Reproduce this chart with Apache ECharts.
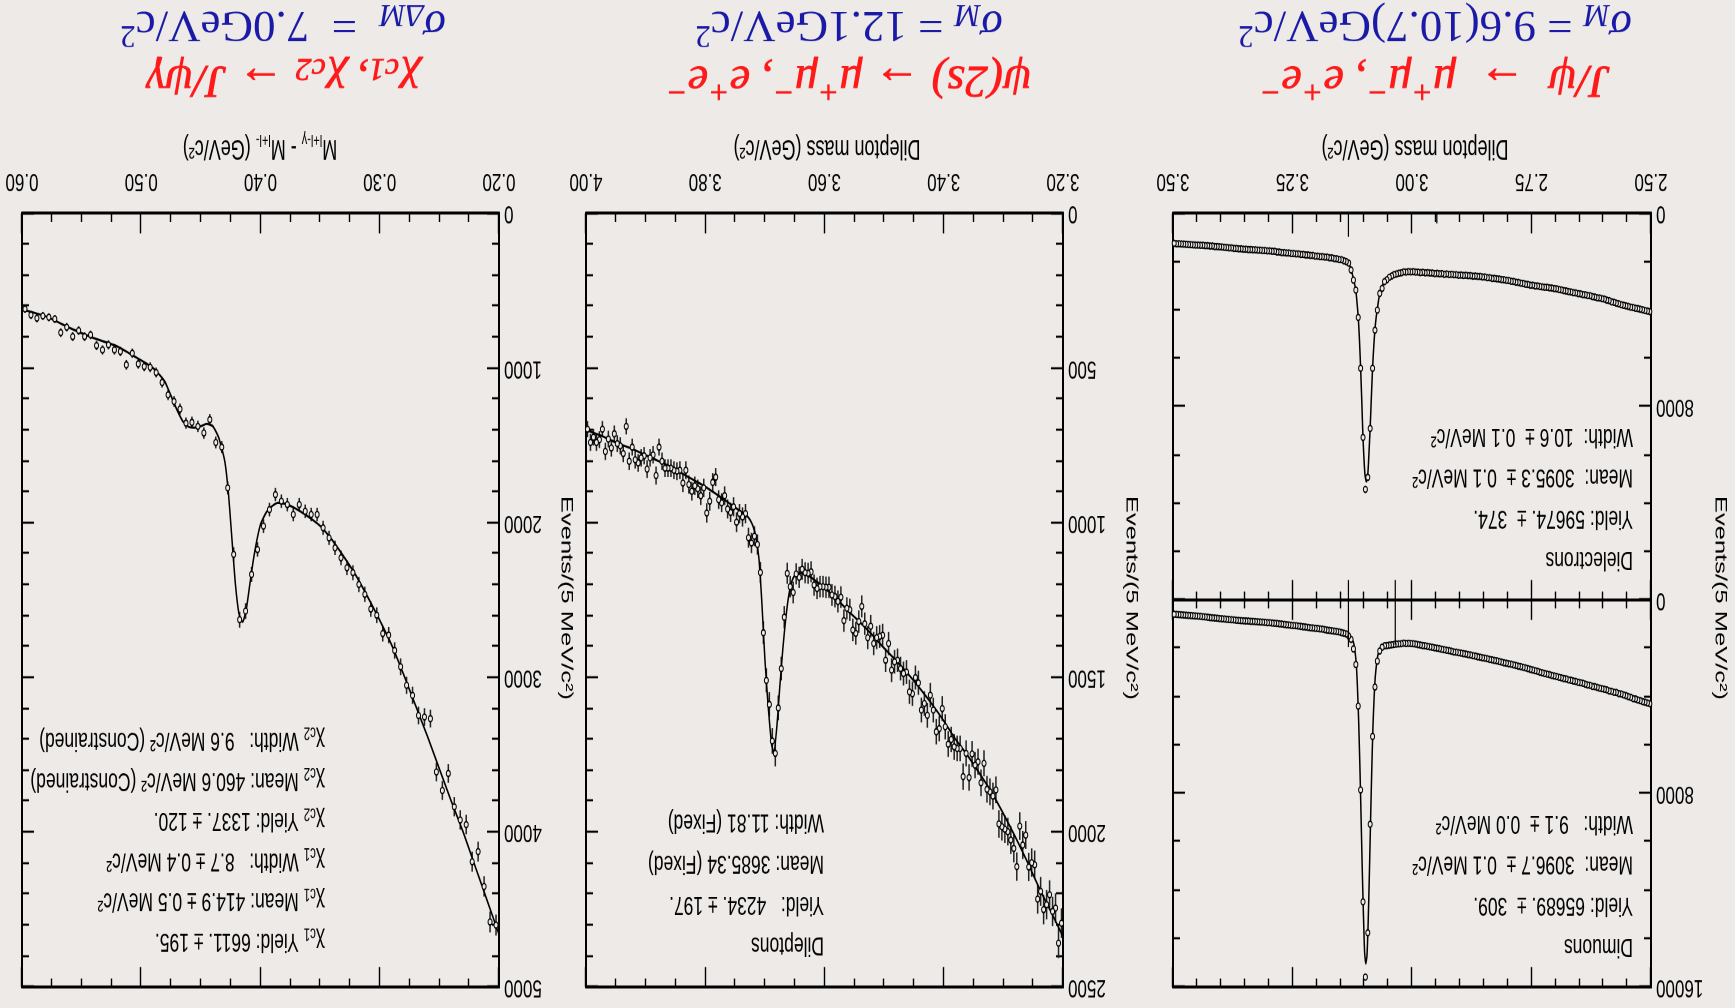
<!DOCTYPE html>
<html><head><meta charset="utf-8">
<script src="https://cdn.jsdelivr.net/npm/echarts@6/dist/echarts.min.js"></script>
<style>
html,body{margin:0;padding:0;background:#edeae8;overflow:hidden;width:1735px;height:1008px;}
#chart{position:absolute;left:0;top:0;width:1735px;height:672px;transform-origin:0 0;
 transform:translate(1735px,1008px) rotate(180deg) scaleY(1.5);}
</style></head><body><div id="chart"></div>
<script>
// ---------- data (5 MeV bins) ----------
const binWidth = 0.005;
const jpsiRange = [2.5, 3.5, 0.25];
const psiRange = [3.2, 4.0, 0.2];
const chiRange = [0.2, 0.6, 0.1];
const jpsiYRange = [0, 16000, 8000];
const psiYRange = [0, 2500, 500];
const chiYRange = [0, 5000, 1000];

const dimuonCounts = [4290,4255,4225,4200,4160,4135,4090,4075,4020,3995,
 3950,3925,3885,3870,3825,3815,3775,3760,3715,3690,
 3670,3645,3615,3585,3570,3525,3510,3480,3445,3420,
 3400,3365,3350,3315,3300,3260,3245,3215,3195,3165,
 3140,3115,3085,3060,3035,3005,2985,2945,2925,2895,
 2865,2840,2805,2785,2755,2735,2705,2685,2655,2635,
 2610,2595,2565,2545,2515,2495,2475,2455,2425,2405,
 2390,2365,2345,2315,2305,2275,2255,2235,2215,2195,
 2180,2155,2145,2115,2095,2075,2055,2035,2005,1995,
 1975,1955,1935,1915,1895,1880,1860,1845,1825,1810,
 1800,1790,1795,1785,1805,1815,1825,1835,1855,1865,
 1880,1895,1950,2110,2530,3600,5640,9270,13760,15590,
 12480,7850,4390,2670,2020,1630,1490,1405,1375,1345,
 1320,1305,1290,1275,1255,1245,1225,1205,1195,1175,
 1170,1155,1145,1130,1115,1105,1090,1080,1065,1055,
 1045,1030,1020,1010,995,985,970,960,950,940,
 935,925,915,905,900,890,885,880,870,865,
 860,855,845,835,825,815,805,795,785,775,
 770,755,745,735,725,710,700,690,675,665,
 660,650,645,635,630,620,612,605,600,592];
const dimuonFitX = [2.50,2.55,2.60,2.65,2.70,2.75,2.80,2.85,2.90,2.95,3.00,3.02,3.04,3.05,3.055,3.06,
 3.0667,3.0717,3.0767,3.0792,3.0817,3.0842,3.0867,3.0892,3.0917,3.0942,3.0967,3.0992,3.1017,3.1042,
 3.1067,3.1092,3.1117,3.1142,3.1167,3.1217,3.1267,3.1317,3.14,3.15,3.20,3.25,3.30,3.35,3.40,3.45,3.50];
const dimuonFitY = [4300,3950,3670,3400,3150,2870,2620,2390,2180,1975,1805,1800,1830,1860,1880,1910,
 2000,2310,3140,4010,5240,7040,9130,11340,13320,14700,15030,14550,12950,11040,
 8830,6740,4940,3590,2610,1810,1560,1480,1410,1335,1175,1050,940,870,775,665,595];

const dielectronCounts = [4060,4035,4015,3985,3965,3935,3925,3895,3875,3845,
 3825,3795,3775,3735,3715,3675,3655,3605,3585,3545,
 3525,3495,3485,3455,3445,3405,3395,3365,3355,3325,
 3315,3285,3275,3245,3235,3205,3195,3165,3145,3115,
 3105,3085,3075,3055,3055,3035,3025,2995,2995,2965,
 2965,2935,2925,2895,2885,2855,2845,2815,2805,2775,
 2765,2745,2735,2715,2705,2685,2685,2655,2655,2625,
 2625,2605,2605,2590,2595,2575,2575,2560,2565,2545,
 2555,2535,2535,2520,2525,2505,2515,2490,2495,2475,
 2485,2465,2465,2450,2455,2435,2445,2425,2425,2405,
 2415,2405,2425,2420,2455,2470,2505,2530,2585,2640,
 2740,2820,3100,3310,4000,4830,6410,8900,10920,11420,
 9270,6410,4300,3170,2760,2340,2050,1990,1955,1915,
 1905,1875,1865,1835,1835,1805,1805,1785,1785,1765,
 1765,1735,1735,1715,1715,1695,1695,1675,1675,1655,
 1655,1635,1635,1615,1615,1595,1595,1565,1565,1545,
 1545,1530,1535,1515,1515,1500,1500,1490,1490,1480,
 1480,1465,1465,1445,1445,1425,1420,1405,1400,1385,
 1380,1365,1365,1345,1345,1330,1330,1315,1315,1305,
 1305,1295,1290,1280,1275,1265,1260,1250,1250,1240];
const dielectronFitX = [2.50,2.55,2.60,2.65,2.70,2.75,2.80,2.85,2.90,2.95,3.00,3.02,3.04,3.05,3.055,3.06,
 3.0625,3.065,3.0675,3.07,3.0725,3.075,3.0775,3.08,3.0825,3.085,3.0875,3.09,3.0925,3.0955,3.0985,
 3.1025,3.105,3.1075,3.11,3.1125,3.115,3.1175,3.1225,3.1275,3.1325,3.14,3.15,3.20,3.25,3.30,3.35,3.40,3.45,3.50];
const dielectronFitY = [4070,3830,3520,3310,3100,2960,2760,2620,2550,2480,2410,2430,2530,2650,2760,2900,
 3050,3150,3300,3600,3950,4300,4800,5500,6400,7600,8850,9900,10800,11100,10800,
 9300,7800,6400,5200,4300,3700,3200,2700,2330,2060,1970,1900,1770,1650,1545,1470,1380,1310,1240];

const psiCounts = [2294,2358,2245,2256,2202,2234,2250,2191,2216,2105,
 2098,2112,2009,2041,1980,2111,2052,2025,1998,1990,
 1982,1973,1863,1883,1869,1861,1777,1840,1772,1783,
 1747,1823,1745,1820,1729,1729,1724,1700,1715,1659,
 1600,1665,1675,1605,1557,1622,1584,1605,1517,1500,
 1552,1546,1482,1487,1471,1444,1449,1476,1390,1444,
 1363,1367,1371,1390,1334,1371,1326,1270,1319,1357,
 1346,1281,1276,1316,1240,1254,1238,1233,1208,1208,
 1206,1206,1212,1201,1158,1163,1161,1150,1176,1165,
 1225,1206,1163,1305,1471,1598,1745,1705,1587,1509,
 1355,1160,1070,1043,1065,1048,970,981,970,998,
 948,966,955,912,935,925,852,869,930,968,
 887,912,890,880,898,876,830,871,830,833,
 830,823,823,823,801,755,847,780,790,826,
 783,790,806,796,755,801,688,776,751,744,
 712,758,729,769,697,731,740,723,740,697];
const psiFitX = [3.20,3.22,3.24,3.26,3.28,3.30,3.32,3.34,3.36,3.38,3.40,3.42,3.44,3.46,3.48,3.50,3.52,3.54,3.56,3.58,3.60,
 3.62,3.63,3.64,3.645,3.65,3.655,3.66,3.665,3.67,3.675,3.68,3.685,3.6885,3.692,3.695,3.70,3.705,3.71,3.715,3.72,
 3.725,3.73,3.75,3.77,3.80,3.83,3.86,3.89,3.92,3.95,3.975,4.00];
const psiFitY = [2337,2258,2180,2095,2015,1940,1870,1810,1752,1700,1640,1585,1535,1488,1445,1405,1362,1322,1285,1245,1210,
 1180,1168,1162,1163,1170,1190,1235,1310,1410,1530,1660,1740,1720,1650,1580,1440,1260,1115,1045,1010,
 990,978,950,922,883,850,817,790,763,740,718,700];

const chiCounts = [4600,4580,4350,4125,4190,3950,3920,3835,3620,3730,
 3610,3265,3255,3245,3115,3050,2930,2825,2725,2715,
 2597,2557,2462,2398,2322,2290,2226,2161,2097,2032,
 1946,1946,1925,1882,1946,1882,1860,1817,1914,2021,
 2172,2333,2570,2626,2204,1774,1510,1480,1333,1419,
 1376,1350,1355,1264,1215,1172,1092,1028,994,989,
 972,903,978,892,882,849,882,854,785,796,
 757,796,735,770,682,671,662,677,656,617];
const chiFitX = [0.200,0.210,0.220,0.230,0.240,0.250,0.260,0.270,0.280,0.290,0.300,0.310,0.320,0.330,0.340,0.350,0.360,0.370,
 0.375,0.380,0.385,0.390,0.395,0.400,0.403,0.406,0.409,0.412,0.415,0.418,0.421,0.424,0.427,0.430,
 0.435,0.440,0.445,0.450,0.455,0.460,0.465,0.470,0.475,0.480,0.485,0.490,0.500,0.520,0.540,0.560,0.580,0.600];
const chiFitY = [4660,4440,4220,4000,3800,3590,3380,3180,2980,2790,2630,2480,2340,2220,2110,2020,1960,1910,
 1890,1875,1870,1890,1930,2010,2110,2240,2400,2560,2640,2590,2400,2100,1800,1600,
 1450,1375,1360,1375,1385,1380,1345,1270,1180,1090,1040,1000,950,860,805,740,665,620];

// signal-window marker lines [x, yFrom, yTo]
const dimuonWindowLines = [[3.133, 0, 1950], [3.035, 0, 1850]];
const dielectronWindowLines = [[3.133, 0, 965], [2.948, 0, 410], [3.133, 15170, 16000], [3.035, 15170, 16000]];

// texts
const dimuonInfo = ['Dimuons', 'Yield: 65689. \u00b1  309.', 'Mean:  3096.7 \u00b1  0.1 MeV/c\u00b2', 'Width:   9.1 \u00b1  0.0 MeV/c\u00b2'];
const dielectronInfo = ['Dielectrons', 'Yield: 59674. \u00b1  374.', 'Mean:  3095.3 \u00b1  0.1 MeV/c\u00b2', 'Width:  10.6 \u00b1  0.1 MeV/c\u00b2'];
const psiInfo = ['Dileptons', 'Yield:   4234. \u00b1 197.', 'Mean: 3685.34 (Fixed)', 'Width: 11.81 (Fixed)'];
const chiInfo = ['{t|\u03c7}{s|c1}{t| Yield: 6611. \u00b1 195.}', '{t|\u03c7}{s|c1}{t| Mean: 414.9 \u00b1 0.5 MeV/c\u00b2}',
 '{t|\u03c7}{s|c1}{t| Width:   8.7 \u00b1 0.4 MeV/c\u00b2}', '{t|\u03c7}{s|c2}{t| Yield: 1337. \u00b1 120.}',
 '{t|\u03c7}{s|c2}{t| Mean: 460.6 MeV/c\u00b2 (Constrained)}', '{t|\u03c7}{s|c2}{t| Width:   9.6 MeV/c\u00b2 (Constrained)}'];
const redTitles = ['{b|J/\u03c8  \u2192  \u03bc}{sp|+}{b|\u03bc}{sp|\u2212}{b|, e}{sp|+}{b|e}{sp|\u2212}',
 '{b|\u03c8(2s) \u2192 \u03bc}{sp|+}{b|\u03bc}{sp|\u2212}{b|, e}{sp|+}{b|e}{sp|\u2212}',
 '{b|\u03c7}{sb|c1}{b|, \u03c7}{sb|c2}{b| \u2192 J/\u03c8\u03b3}'];
const blueTitles = ['{i|\u03c3}{sb|M}{r| = 9.6(10.7)GeV/c}{sp|2}', '{i|\u03c3}{sb|M}{r| = 12.1GeV/c}{sp|2}', '{i|\u03c3}{sb|\u0394M}{r|  =  7.0GeV/c}{sp|2}'];
const xNames = ['{t|Dilepton mass (GeV/c\u00b2)}', '{t|Dilepton mass (GeV/c\u00b2)}', '{t|M}{s|l+l-\u03b3}{t| - M}{s|l+l-}{t| (GeV/c\u00b2)}'];
const yName = 'Events/(5 MeV/c\u00b2)';

// ---------- layout ----------
const S = 1.5;               // vertical stretch of the whole figure
const py = v => v / S;
const BG = '#edeae8', INK = '#000', RED = '#ff1a1a', BLUE = '#1a1aa6';
const SANS = '"Liberation Sans", Arial, Helvetica, sans-serif';
const SERIF = '"Liberation Serif", "Times New Roman", serif';

const centers = (lo, n) => Array.from({length: n}, (_, i) => +(lo + binWidth * (i + 0.5)).toFixed(4));
const pts = (lo, counts) => { const c = centers(lo, counts.length); return counts.map((v, i) => [c[i], v]); };

const grids = [
  {left: 84, top: py(21), width: 478, height: py(387)},
  {left: 84, top: py(408), width: 478, height: py(386.5)},
  {left: 672, top: py(21), width: 477, height: py(773.5)},
  {left: 1236, top: py(21), width: 477, height: py(773.5)}
].map(g => Object.assign(g, {outerBoundsMode: 'none', containLabel: false}));

function xPair(gi, r, split, labels) {
  const c = {type: 'value', gridIndex: gi, min: r[0], max: r[1], interval: r[2],
    axisLine: {show: true, onZero: false, lineStyle: {color: INK, width: 2}},
    axisTick: {show: true, inside: true, length: py(20), lineStyle: {color: INK, width: 1.4}},
    minorTick: {show: true, splitNumber: split, length: py(8.5), lineStyle: {color: INK, width: 1.4}},
    splitLine: {show: false}, minorSplitLine: {show: false}};
  return [Object.assign({}, c, {position: 'bottom', axisLabel: {show: labels, showMinLabel: true, showMaxLabel: true,
      margin: 13, fontSize: 17, fontFamily: SANS, color: INK, formatter: v => v.toFixed(2)}}),
    Object.assign({}, c, {position: 'top', axisLabel: {show: false}})];
}
function yPair(gi, r, split, showMax) {
  const c = {type: 'value', gridIndex: gi, min: r[0], max: r[1], interval: r[2],
    axisLine: {show: true, onZero: false, lineStyle: {color: INK, width: 2}},
    axisTick: {show: true, inside: true, length: 12, lineStyle: {color: INK, width: 1.4}},
    minorTick: {show: true, splitNumber: split, length: 7, lineStyle: {color: INK, width: 1.4}},
    splitLine: {show: false}, minorSplitLine: {show: false}};
  return [Object.assign({}, c, {position: 'left', axisLabel: {show: true, showMinLabel: true, showMaxLabel: showMax,
      margin: 5, fontSize: 17, fontFamily: SANS, color: INK, formatter: v => String(Math.round(v))}}),
    Object.assign({}, c, {position: 'right', axisLabel: {show: false}})];
}
const xAxes = [].concat(xPair(0, jpsiRange, 5, false), xPair(1, jpsiRange, 5, true), xPair(2, psiRange, 4, true), xPair(3, chiRange, 4, true));
const yAxes = [].concat(yPair(0, jpsiYRange, 4, true), yPair(1, jpsiYRange, 4, false), yPair(2, psiYRange, 5, true), yPair(3, chiYRange, 5, true));

const series = [];
const errRender = (params, api) => {
  const x = api.value(0), y = api.value(1), e = Math.sqrt(y);
  const a = api.coord([x, y - e]), b = api.coord([x, y + e]);
  return {type: 'line', shape: {x1: a[0], y1: a[1], x2: b[0], y2: b[1]}, style: {stroke: '#222', lineWidth: 1.5}};
};
const segRender = (params, api) => {
  const a = api.coord([api.value(0), api.value(1)]), b = api.coord([api.value(0), api.value(2)]);
  return {type: 'line', shape: {x1: a[0], y1: a[1], x2: b[0], y2: b[1]}, style: {stroke: INK, lineWidth: 1.2}};
};
function panel(gi, data, fx, fy, errors) {
  const ax = {xAxisIndex: 2 * gi, yAxisIndex: 2 * gi, silent: true, animation: false};
  if (errors) series.push(Object.assign({type: 'custom', data: data, renderItem: errRender, z: 2}, ax));
  series.push(Object.assign({type: 'line', data: fx.map((x, i) => [x, fy[i]]), showSymbol: false, symbol: 'none',
    smooth: 0.2, lineStyle: {color: INK, width: 1.5}, z: 3}, ax));
  series.push(Object.assign({type: 'scatter', data: data, symbol: 'circle', symbolSize: 4,
    itemStyle: {color: BG, borderColor: INK, borderWidth: 1, opacity: 1}, z: 4}, ax));
}
panel(0, pts(2.5, dimuonCounts), dimuonFitX, dimuonFitY, false);
panel(1, pts(2.5, dielectronCounts), dielectronFitX, dielectronFitY, false);
panel(2, pts(3.2, psiCounts), psiFitX, psiFitY, true);
panel(3, pts(0.2, chiCounts), chiFitX, chiFitY, true);
series.push({type: 'custom', xAxisIndex: 0, yAxisIndex: 0, data: dimuonWindowLines, encode: {x: 0, y: [1, 2]}, renderItem: segRender, z: 5, silent: true});
series.push({type: 'custom', xAxisIndex: 2, yAxisIndex: 2, data: dielectronWindowLines, encode: {x: 0, y: [1, 2]}, renderItem: segRender, z: 5, silent: true});

// ---------- texts ----------
const graphics = [];
const legendRich = {t: {fontSize: 17.5, fontFamily: SANS, fill: INK, lineHeight: 22},
  s: {fontSize: 11.5, fontFamily: SANS, fill: INK, verticalAlign: 'bottom', lineHeight: 11}};
function info(lines, x, y0, dy) {
  lines.forEach((t, i) => graphics.push({type: 'text', x: x, y: py(y0 + dy * i), silent: true,
    style: {text: t, rich: legendRich, fontSize: 17.5, fontFamily: SANS, fill: INK,
      align: 'left', textAlign: 'left', verticalAlign: 'middle', textVerticalAlign: 'middle'}}));
}
info(dimuonInfo, 102, 62, 41);
info(dielectronInfo, 102, 449, 41);
info(psiInfo, 911, 63, 41);
info(chiInfo, 1410, 67, 40.2);

const panelCX = [300, 886, 1452];
const redBase = {fontFamily: SERIF, fontStyle: 'italic', fill: RED, stroke: RED, lineWidth: 0.7};
const redRich = {b: Object.assign({fontSize: 46, lineHeight: 54}, redBase),
  sp: Object.assign({fontSize: 32, verticalAlign: 'top', lineHeight: 32}, redBase),
  sb: Object.assign({fontSize: 32, verticalAlign: 'bottom', lineHeight: 32}, redBase)};
const blueRich = {i: {fontSize: 45, fontFamily: SERIF, fontStyle: 'italic', fill: BLUE, lineHeight: 52},
  r: {fontSize: 45, fontFamily: SERIF, fill: BLUE, lineHeight: 52},
  sp: {fontSize: 31, fontFamily: SERIF, fill: BLUE, verticalAlign: 'top', lineHeight: 31},
  sb: {fontSize: 31, fontFamily: SERIF, fontStyle: 'italic', fill: BLUE, verticalAlign: 'bottom', lineHeight: 31}};
panelCX.forEach((cx, i) => {
  graphics.push({type: 'text', x: cx, y: py(929), scaleY: 1 / S, silent: true,
    style: {text: redTitles[i], rich: redRich, align: 'center', textAlign: 'center', verticalAlign: 'middle', textVerticalAlign: 'middle'}});
  graphics.push({type: 'text', x: cx, y: py(984), scaleY: 1 / S, silent: true,
    style: {text: blueTitles[i], rich: blueRich, align: 'center', textAlign: 'center', verticalAlign: 'middle', textVerticalAlign: 'middle'}});
});
const xNameCX = [320, 908, 1475];
const nameRich = {t: {fontSize: 18, fontFamily: SANS, fill: INK, lineHeight: 22},
  s: {fontSize: 11, fontFamily: SANS, fill: INK, verticalAlign: 'bottom', lineHeight: 11}};
xNameCX.forEach((cx, i) => graphics.push({type: 'text', x: cx, y: py(860), silent: true,
  style: {text: xNames[i], rich: nameRich, align: 'center', textAlign: 'center', verticalAlign: 'middle', textVerticalAlign: 'middle'}}));
[15, 604, 1169].forEach(x => graphics.push({type: 'text', x: x, y: py(410), rotation: Math.PI / 2, silent: true,
  style: {text: yName, fontSize: 17, fontFamily: SANS, fill: INK, align: 'center', textAlign: 'center', verticalAlign: 'middle', textVerticalAlign: 'middle'}}));

const chart = echarts.init(document.getElementById('chart'), null, {renderer: 'canvas', devicePixelRatio: 2});
chart.setOption({
  backgroundColor: BG, animation: false,
  textStyle: {fontFamily: SANS},
  grid: grids, xAxis: xAxes, yAxis: yAxes, series: series, graphic: graphics
});
</script></body></html>
